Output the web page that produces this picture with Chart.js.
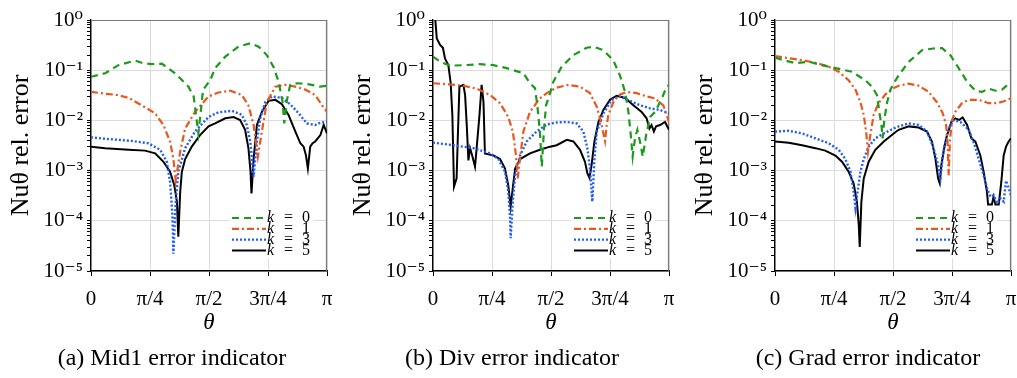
<!DOCTYPE html>
<html><head><meta charset="utf-8">
<script src="https://cdn.jsdelivr.net/npm/chart.js@4.4.1/dist/chart.umd.min.js"></script>
<style>
html,body{margin:0;padding:0;background:#fff;}
#wrap{position:relative;width:1017px;height:378px;overflow:hidden;background:#fff;}
.pane{position:absolute;top:0;width:340px;height:345px;}
.cap{position:absolute;top:343px;font-family:'Liberation Serif',serif;font-size:24px;white-space:nowrap;transform:translateX(-50%);line-height:28px;color:#000;}
</style></head><body>
<div id="wrap">
<div class="pane" style="left:0px"><canvas id="ca" width="340" height="345"></canvas></div>
<div class="pane" style="left:342px"><canvas id="cb" width="340" height="345"></canvas></div>
<div class="pane" style="left:684px"><canvas id="cc" width="340" height="345"></canvas></div>
<div class="cap" style="left:172px">(a) Mid1 error indicator</div>
<div class="cap" style="left:512px">(b) Div error indicator</div>
<div class="cap" style="left:868px">(c) Grad error indicator</div>
</div>
<script>
// ---- data: [theta/pi, relative error] ----
const seriesLabels = ['k = 0', 'k = 1', 'k = 3', 'k = 5'];
const xTickLabels = ['0', 'π/4', 'π/2', '3π/4', 'π'];
const xTickValues = [0, 0.25, 0.5, 0.75, 1];
const yDecades = [-5, -4, -3, -2, -1, 0];
const captions = ['(a) Mid1 error indicator', '(b) Div error indicator', '(c) Grad error indicator'];

const mid1_k0 = [[0,0.074],[0.06,0.087],[0.116,0.126],[0.187,0.155],[0.22,0.138],[0.257,0.132],[0.3,0.135],[0.356,0.087],[0.413,0.047],[0.435,0.03],[0.455,0.0055],[0.475,0.041],[0.505,0.063],[0.526,0.11],[0.569,0.186],[0.625,0.295],[0.675,0.343],[0.71,0.295],[0.745,0.2],[0.773,0.117],[0.795,0.059],[0.812,0.023],[0.819,0.0087],[0.83,0.025],[0.844,0.051],[0.873,0.055],[0.905,0.054],[0.936,0.051],[0.97,0.047],[1,0.049]];
const mid1_k1 = [[0,0.037],[0.06,0.034],[0.116,0.032],[0.16,0.028],[0.215,0.02],[0.272,0.0138],[0.307,0.0081],[0.335,0.0038],[0.349,0.0017],[0.359,0.00063],[0.378,0.0024],[0.399,0.0069],[0.441,0.0148],[0.498,0.03],[0.54,0.036],[0.59,0.039],[0.639,0.032],[0.667,0.02],[0.689,0.0081],[0.707,0.0019],[0.724,0.006],[0.745,0.023],[0.781,0.047],[0.823,0.051],[0.866,0.047],[0.908,0.041],[0.95,0.032],[0.979,0.02],[1,0.0148]];
const mid1_k3 = [[0,0.0046],[0.06,0.0043],[0.173,0.0039],[0.243,0.0035],[0.293,0.0026],[0.321,0.0015],[0.335,0.0006],[0.345,0.00013],[0.349,0.000022],[0.359,0.00024],[0.37,0.00095],[0.399,0.0028],[0.441,0.006],[0.498,0.0117],[0.54,0.0145],[0.597,0.0155],[0.639,0.0129],[0.66,0.0081],[0.675,0.0038],[0.689,0.00076],[0.703,0.0038],[0.717,0.011],[0.738,0.023],[0.767,0.03],[0.809,0.028],[0.844,0.021],[0.88,0.0138],[0.915,0.0087],[0.95,0.0081],[0.975,0.0091],[1,0.0093]];
const mid1_k5 = [[0,0.003],[0.06,0.0028],[0.16,0.0026],[0.229,0.0025],[0.272,0.0022],[0.307,0.0015],[0.335,0.00095],[0.353,0.00051],[0.364,0.00024],[0.37,0.000048],[0.378,0.00038],[0.385,0.00095],[0.399,0.0017],[0.427,0.003],[0.462,0.0051],[0.498,0.0076],[0.526,0.0087],[0.569,0.011],[0.604,0.0117],[0.632,0.0102],[0.653,0.0065],[0.667,0.0028],[0.676,0.00095],[0.68,0.00035],[0.689,0.0017],[0.703,0.0081],[0.724,0.0148],[0.752,0.0245],[0.781,0.0257],[0.809,0.021],[0.837,0.0129],[0.866,0.006],[0.887,0.0035],[0.901,0.003],[0.911,0.002],[0.919,0.0011],[0.929,0.003],[0.939,0.0035],[0.95,0.0038],[0.972,0.0051],[0.986,0.0081],[1,0.0055]];

const div_k0 = [[0,0.186],[0.03,0.148],[0.072,0.123],[0.13,0.126],[0.199,0.132],[0.256,0.126],[0.312,0.11],[0.383,0.087],[0.411,0.055],[0.432,0.044],[0.442,0.02],[0.453,0.006],[0.461,0.0012],[0.47,0.0063],[0.479,0.02],[0.496,0.035],[0.51,0.059],[0.545,0.117],[0.595,0.2],[0.651,0.28],[0.68,0.295],[0.722,0.25],[0.764,0.158],[0.792,0.079],[0.814,0.037],[0.828,0.0148],[0.838,0.0051],[0.846,0.0019],[0.856,0.0044],[0.866,0.0065],[0.877,0.0038],[0.889,0.0019],[0.903,0.0051],[0.92,0.0117],[0.941,0.0148],[0.955,0.02],[0.973,0.03],[0.99,0.047],[1,0.05]];
const div_k1 = [[0,0.055],[0.072,0.052],[0.129,0.049],[0.185,0.043],[0.242,0.032],[0.284,0.022],[0.319,0.0117],[0.338,0.006],[0.348,0.0028],[0.355,0.0013],[0.359,0.0007],[0.369,0.0018],[0.383,0.006],[0.411,0.0148],[0.453,0.0275],[0.482,0.035],[0.524,0.045],[0.574,0.051],[0.623,0.047],[0.665,0.035],[0.694,0.0186],[0.712,0.0093],[0.722,0.0055],[0.729,0.0039],[0.736,0.0079],[0.743,0.0129],[0.764,0.023],[0.786,0.032],[0.821,0.037],[0.863,0.035],[0.905,0.03],[0.94,0.0275],[0.976,0.02],[1,0.0093]];
const div_k3 = [[0,0.0036],[0.086,0.0032],[0.171,0.0028],[0.242,0.0022],[0.277,0.0017],[0.305,0.00095],[0.319,0.00038],[0.326,0.00013],[0.329,0.000045],[0.338,0.00024],[0.348,0.00081],[0.369,0.002],[0.397,0.0038],[0.439,0.006],[0.482,0.0083],[0.524,0.0091],[0.567,0.0093],[0.609,0.0087],[0.637,0.006],[0.654,0.0028],[0.665,0.0011],[0.675,0.00024],[0.684,0.0017],[0.694,0.006],[0.722,0.0138],[0.757,0.0257],[0.792,0.03],[0.835,0.0245],[0.877,0.02],[0.92,0.0174],[0.96,0.0162],[1,0.0138]];
const div_k5 = [[0.008,1.3],[0.016,0.43],[0.03,0.32],[0.042,0.28],[0.051,0.17],[0.065,0.126],[0.075,0.055],[0.082,0.0129],[0.089,0.00048],[0.1,0.0007],[0.106,0.0063],[0.112,0.047],[0.129,0.051],[0.136,0.032],[0.143,0.0081],[0.15,0.0016],[0.157,0.0028],[0.166,0.002],[0.178,0.0012],[0.185,0.0028],[0.197,0.0129],[0.206,0.051],[0.214,0.023],[0.22,0.0022],[0.256,0.002],[0.284,0.0017],[0.305,0.0011],[0.319,0.00051],[0.329,0.00019],[0.338,0.00045],[0.348,0.0011],[0.369,0.0017],[0.411,0.0022],[0.453,0.0026],[0.496,0.003],[0.524,0.0032],[0.567,0.0041],[0.595,0.0038],[0.623,0.0026],[0.644,0.0015],[0.654,0.00089],[0.663,0.00072],[0.672,0.0013],[0.684,0.0038],[0.701,0.0093],[0.722,0.0162],[0.75,0.0257],[0.778,0.031],[0.814,0.028],[0.849,0.02],[0.884,0.0148],[0.905,0.011],[0.917,0.0069],[0.926,0.0081],[0.936,0.006],[0.945,0.0076],[0.962,0.0081],[0.983,0.0093],[1,0.0065]];

const grad_k0 = [[0,0.178],[0.044,0.155],[0.086,0.138],[0.143,0.148],[0.199,0.126],[0.256,0.11],[0.326,0.093],[0.383,0.063],[0.411,0.047],[0.432,0.032],[0.442,0.0148],[0.451,0.0081],[0.456,0.0044],[0.463,0.01],[0.475,0.023],[0.489,0.041],[0.503,0.055],[0.524,0.079],[0.567,0.148],[0.623,0.25],[0.68,0.275],[0.708,0.275],[0.743,0.2],[0.778,0.11],[0.814,0.059],[0.849,0.039],[0.877,0.037],[0.906,0.043],[0.934,0.039],[0.962,0.041],[1,0.059]];
const grad_k1 = [[0,0.19],[0.058,0.174],[0.115,0.158],[0.171,0.141],[0.228,0.117],[0.27,0.093],[0.312,0.063],[0.341,0.041],[0.362,0.023],[0.376,0.0129],[0.386,0.006],[0.394,0.0024],[0.404,0.0051],[0.418,0.0129],[0.439,0.022],[0.468,0.033],[0.503,0.044],[0.524,0.049],[0.567,0.054],[0.609,0.049],[0.651,0.037],[0.686,0.023],[0.711,0.0138],[0.725,0.0081],[0.731,0.0038],[0.736,0.00081],[0.741,0.0038],[0.75,0.0102],[0.764,0.0148],[0.792,0.022],[0.821,0.0257],[0.863,0.0257],[0.906,0.022],[0.94,0.022],[0.97,0.024],[1,0.0275]];
const grad_k3 = [[0,0.006],[0.058,0.0062],[0.115,0.0055],[0.171,0.0044],[0.228,0.0035],[0.27,0.0026],[0.298,0.0017],[0.32,0.00095],[0.333,0.00038],[0.341,0.00018],[0.35,0.00038],[0.362,0.00095],[0.376,0.0017],[0.397,0.003],[0.425,0.0044],[0.461,0.0055],[0.503,0.0069],[0.524,0.0076],[0.567,0.0087],[0.609,0.0081],[0.644,0.006],[0.672,0.0028],[0.691,0.0013],[0.701,0.00071],[0.711,0.002],[0.722,0.0038],[0.736,0.0069],[0.757,0.0102],[0.786,0.0093],[0.821,0.0065],[0.846,0.0032],[0.863,0.0017],[0.884,0.00081],[0.898,0.00045],[0.913,0.0003],[0.927,0.00032],[0.941,0.00022],[0.955,0.00028],[0.969,0.00024],[0.979,0.00063],[0.99,0.00045],[1,0.00032]];
const grad_k5 = [[0,0.0038],[0.058,0.0036],[0.115,0.0032],[0.171,0.0028],[0.213,0.0025],[0.256,0.002],[0.284,0.0015],[0.312,0.00095],[0.333,0.00056],[0.347,0.00024],[0.355,0.000083],[0.359,0.00003],[0.366,0.00024],[0.376,0.0007],[0.397,0.0015],[0.425,0.0026],[0.461,0.0038],[0.503,0.0055],[0.524,0.0065],[0.567,0.0076],[0.609,0.0072],[0.644,0.006],[0.665,0.0038],[0.68,0.0017],[0.691,0.0007],[0.698,0.00056],[0.705,0.0013],[0.719,0.0032],[0.729,0.0051],[0.737,0.0065],[0.747,0.0093],[0.764,0.011],[0.78,0.0102],[0.795,0.0115],[0.814,0.0081],[0.832,0.0044],[0.849,0.0038],[0.87,0.002],[0.884,0.00095],[0.898,0.00038],[0.903,0.00021],[0.912,0.00021],[0.919,0.00021],[0.926,0.0003],[0.934,0.00021],[0.948,0.00021],[0.959,0.0006],[0.969,0.002],[0.979,0.003],[0.99,0.0038],[1,0.0044]];

// ---- styling ----
const lineStyles = [
  {color: '#1c9a1c', dash: [7, 5], width: 2.2},
  {color: '#ea561c', dash: [7, 3, 2, 3], width: 2.2},
  {color: '#1e5cff', dash: [2, 2], width: 2.4},
  {color: '#000000', dash: [], width: 2}
];
const FONT = "'Liberation Serif', 'DejaVu Serif', serif";
const SUP = {'-':'⁻','0':'⁰','1':'¹','2':'²','3':'³','4':'⁴','5':'⁵','6':'⁶','7':'⁷','8':'⁸','9':'⁹'};
function isDecade(v){ if(!v) return false; const l = Math.log10(v); return Math.abs(l - Math.round(l)) < 1e-6; }
function decadeLabel(v){ const e = Math.round(Math.log10(v)); return '10' + String(e).split('').map(c => SUP[c]).join(''); }

const framePlugin = {
  id: 'frame',
  beforeDatasetsDraw(chart){
    const {ctx, chartArea: a} = chart;
    ctx.save(); ctx.strokeStyle = '#7a7a7a'; ctx.lineWidth = 1.2;
    ctx.beginPath(); ctx.moveTo(a.left, a.top + 0.5); ctx.lineTo(a.right - 0.5, a.top + 0.5); ctx.lineTo(a.right - 0.5, a.bottom); ctx.stroke();
    ctx.restore();
  }
};
const legendPlugin = {
  id: 'kLegend',
  afterDatasetsDraw(chart){
    const {ctx, chartArea: a} = chart;
    const x0 = a.left + 141, len = 34, step = 10.8;
    const first = a.bottom - 53;
    ctx.save();
    ctx.fillStyle = '#fff';
    ctx.fillRect(x0 - 3, first - 8, len + 50, step * 3 + 16);
    chart.data.datasets.forEach((ds, i) => {
      const y = first + i * step;
      ctx.strokeStyle = ds.borderColor; ctx.lineWidth = ds.borderWidth;
      ctx.setLineDash(ds.borderDash || []);
      ctx.beginPath(); ctx.moveTo(x0, y); ctx.lineTo(x0 + len, y); ctx.stroke();
      ctx.setLineDash([]);
      ctx.fillStyle = '#000'; ctx.textBaseline = 'middle';
      const parts = ds.label.split(' = ');
      const tx = x0 + len + 1;
      ctx.textAlign = 'left';
      ctx.font = 'italic 16px ' + FONT; ctx.fillText(parts[0], tx, y);
      ctx.font = '16px ' + FONT;
      ctx.textAlign = 'center'; ctx.fillText('=', tx + 21.5, y);
      ctx.textAlign = 'left'; ctx.fillText(parts[1], tx + 35, y);
    });
    ctx.restore();
  }
};

function makeChart(id, series){
  const datasets = series.map((s, i) => ({
    label: seriesLabels[i],
    data: s.map(p => ({x: p[0], y: p[1]})),
    borderColor: lineStyles[i].color,
    borderDash: lineStyles[i].dash,
    borderWidth: lineStyles[i].width,
    pointRadius: 0, tension: 0, fill: false
  }));
  return new Chart(document.getElementById(id), {
    type: 'line',
    data: {datasets},
    plugins: [framePlugin, legendPlugin],
    options: {
      responsive: false, animation: false, devicePixelRatio: 1, events: [],
      layout: {padding: {top: 20, right: 13, left: 0, bottom: 0}},
      plugins: {legend: {display: false}, tooltip: {enabled: false}},
      scales: {
        x: {
          type: 'linear', min: 0, max: 1,
          afterBuildTicks: sc => { sc.ticks = xTickValues.map(v => ({value: v})); },
          afterFit: sc => { sc.height = 74; sc.paddingLeft = 0; sc.paddingRight = 0; },
          ticks: {autoSkip: false, maxRotation: 0, color: '#000', padding: 11,
                  font: {family: FONT, size: 21},
                  callback: (v) => xTickLabels[xTickValues.indexOf(v)]},
          grid: {color: '#dcdcdc', tickColor: '#000', tickLength: 5, lineWidth: 1},
          border: {color: '#000', width: 1.4},
          title: {display: true, text: 'θ', color: '#000', font: {family: FONT, size: 23, style: 'italic'}, padding: {top: 0, bottom: 8}}
        },
        y: {
          type: 'logarithmic', min: 1e-5, max: 1,
          afterBuildTicks: sc => {
            const t = [];
            yDecades.forEach(e => { for (let m = 1; m <= 9; m++) { if (e === 0 && m > 1) break; t.push({value: +(m * Math.pow(10, e)).toPrecision(2)}); } });
            sc.ticks = t;
          },
          afterFit: sc => { sc.width = 91; sc.paddingTop = 0; sc.paddingBottom = 0; },
          ticks: {autoSkip: false, color: '#000', padding: 4, font: {family: FONT, size: 21},
                  callback: (v) => isDecade(v) ? decadeLabel(v) : ''},
          grid: {color: c => (c.tick && isDecade(c.tick.value)) ? '#dcdcdc' : 'rgba(0,0,0,0)',
                 tickColor: '#000', tickLength: 4, lineWidth: 1},
          border: {color: '#000', width: 1.4},
          title: {display: true, text: 'Nuθ rel. error', color: '#000', font: {family: FONT, size: 26}, padding: {top: 6, bottom: 0}}
        }
      }
    }
  });
}
makeChart('ca', [mid1_k0, mid1_k1, mid1_k3, mid1_k5]);
makeChart('cb', [div_k0, div_k1, div_k3, div_k5]);
makeChart('cc', [grad_k0, grad_k1, grad_k3, grad_k5]);
</script>
</body></html>
